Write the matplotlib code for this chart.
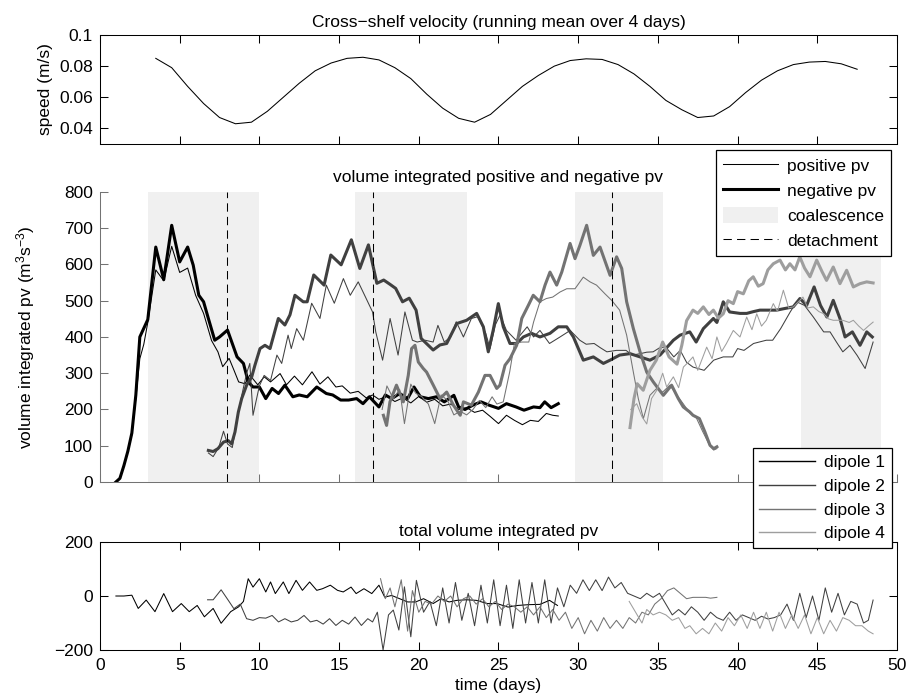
import numpy as np
import matplotlib
import matplotlib.pyplot as plt
from matplotlib.lines import Line2D
from matplotlib.patches import Patch

matplotlib.use("agg")

plt.rcParams["font.family"] = ["Liberation Sans", "DejaVu Sans"]
plt.rcParams["font.size"] = 12.5
plt.rcParams["mathtext.fontset"] = "custom"
plt.rcParams["mathtext.rm"] = "Liberation Sans"
plt.rcParams["mathtext.it"] = "Liberation Sans:italic"

# cross-shelf speed (running mean over 4 days)
speed_days = [3.5, 4.5, 5.5, 6.5, 7.5, 8.5, 9.5, 10.5, 11.5, 12.5, 13.5, 14.5,
              15.5, 16.5, 17.5, 18.5, 19.5, 20.5, 21.5, 22.5, 23.5, 24.5, 25.5,
              26.5, 27.5, 28.5, 29.5, 30.5, 31.5, 32.5, 33.5, 34.5, 35.5, 36.5,
              37.5, 38.5, 39.5, 40.5, 41.5, 42.5, 43.5, 44.5, 45.5, 46.5, 47.5]
speed_ms = [0.085, 0.079, 0.067, 0.056, 0.047, 0.043, 0.044, 0.051, 0.060, 0.069,
            0.077, 0.082, 0.085, 0.0857, 0.084, 0.079, 0.072, 0.062, 0.053, 0.0465,
            0.044, 0.049, 0.058, 0.067, 0.074, 0.080, 0.0836, 0.0847, 0.0843, 0.081,
            0.075, 0.067, 0.058, 0.052, 0.047, 0.048, 0.054, 0.063, 0.071, 0.077,
            0.081, 0.0826, 0.083, 0.0815, 0.078]

# coalescence periods and detachment times (days)
coal_start = [3.0, 16.0, 29.8, 44.0]
coal_end = [10.0, 23.0, 35.3, 49.0]
detach_day = [8.0, 17.15, 32.1]

# volume integrated positive / negative pv per dipole: (day, value)
pos1 = np.array([
    (1.0, 0), (1.25, 10), (1.5, 45), (1.75, 85), (2.0, 130), (2.25, 230), (2.5, 340),
    (2.75, 380), (3.0, 440), (3.5, 585), (4.0, 555), (4.5, 650), (5.0, 578), (5.5, 590),
    (6.0, 515), (6.5, 465), (7.0, 390), (7.4, 359), (7.7, 318), (8.1, 341), (8.4, 309),
    (8.7, 276), (9.1, 271), (9.4, 295), (9.9, 268), (10.3, 290), (10.7, 276), (11.3, 299),
    (11.7, 268), (12.2, 292), (12.7, 268), (13.3, 304), (13.8, 270), (14.3, 290),
    (14.8, 262), (15.2, 265), (15.7, 245), (16.2, 250), (16.7, 232), (17.1, 240),
    (17.5, 228), (18.0, 236), (18.5, 222), (19.0, 232), (19.5, 218), (20.0, 236),
    (20.5, 220), (21.0, 228), (21.5, 210), (22.0, 215), (22.5, 200), (23.0, 205),
    (23.5, 192), (24.0, 198), (24.5, 180), (25.0, 161), (25.5, 184), (26.0, 170),
    (26.5, 158), (27.0, 170), (27.5, 167), (28.0, 189), (28.4, 184), (28.75, 182)])
neg1 = np.array([
    (1.0, 0), (1.25, 10), (1.5, 45), (1.75, 85), (2.0, 135), (2.25, 240), (2.5, 400),
    (3.0, 448), (3.5, 648), (4.0, 558), (4.5, 708), (5.0, 607), (5.5, 648), (5.85, 598),
    (6.2, 515), (6.5, 497), (6.8, 451), (7.2, 391), (7.5, 400), (8.0, 419), (8.3, 382),
    (8.6, 345), (9.0, 327), (9.3, 276), (9.6, 262), (10.0, 262), (10.4, 230), (10.8, 258),
    (11.2, 244), (11.6, 267), (12.1, 235), (12.5, 240), (13.0, 235), (13.6, 262),
    (14.2, 244), (14.6, 240), (15.1, 226), (15.6, 226), (16.1, 230), (16.5, 216),
    (16.9, 235), (17.5, 207), (17.9, 240), (18.3, 230), (18.8, 244), (19.3, 230),
    (19.7, 262), (20.1, 235), (20.6, 230), (21.1, 235), (21.6, 221), (22.2, 239),
    (22.5, 207), (22.9, 200), (23.4, 212), (23.9, 221), (24.4, 212), (25.0, 203),
    (25.5, 216), (26.1, 207), (26.6, 198), (27.2, 207), (27.6, 205), (27.9, 221),
    (28.3, 205), (28.75, 216)])
pos2 = np.array([
    (6.8, 80), (7.1, 70), (7.45, 95), (7.75, 140), (8.0, 105), (8.3, 95), (8.6, 170),
    (8.9, 240), (9.2, 300), (9.4, 327), (9.6, 184), (10.0, 265), (10.3, 294), (10.7, 280),
    (11.1, 350), (11.4, 327), (11.8, 405), (12.0, 368), (12.34, 423), (12.76, 391),
    (13.28, 493), (13.8, 451), (14.2, 543), (14.7, 493), (15.27, 561), (15.7, 515),
    (16.2, 552), (16.7, 506), (17.1, 469), (17.3, 414), (17.73, 336), (18.2, 451),
    (18.7, 350), (19.13, 469), (19.6, 391), (19.9, 386), (20.4, 391), (20.9, 386),
    (21.2, 432), (21.6, 386), (22.0, 400), (22.35, 442), (22.8, 400), (23.3, 451),
    (23.7, 456), (24.2, 410), (24.47, 368), (24.8, 433), (25.1, 461), (25.5, 418),
    (26.1, 391), (26.8, 428), (27.2, 400), (27.6, 418), (28.2, 382), (28.86, 400),
    (29.5, 418), (30.1, 391), (30.5, 380), (31.0, 382), (31.4, 370), (31.8, 359),
    (32.4, 363), (33.0, 363), (33.4, 350), (33.9, 354), (34.3, 358), (34.7, 359),
    (35.1, 370), (35.5, 372), (36.0, 345), (36.4, 363), (36.8, 330), (37.2, 317),
    (37.9, 308), (38.5, 336), (39.1, 345), (39.7, 345), (40.0, 368), (40.4, 363),
    (41.0, 382), (41.8, 391), (42.2, 391), (42.7, 423), (43.3, 469), (43.7, 497),
    (44.2, 487), (44.75, 455), (45.4, 414), (45.8, 414), (46.2, 386), (46.6, 359),
    (47.05, 377), (47.5, 349), (48.0, 313), (48.5, 386)])
neg2 = np.array([
    (6.8, 87), (7.1, 84), (7.4, 92), (7.75, 110), (8.05, 114), (8.26, 105), (8.47, 138),
    (8.68, 193), (8.89, 230), (9.2, 267), (9.52, 290), (9.72, 322), (10.04, 368),
    (10.35, 377), (10.67, 368), (11.19, 451), (11.6, 433), (11.92, 461), (12.23, 515),
    (12.75, 497), (13.0, 497), (13.41, 571), (14.06, 543), (14.48, 626), (15.13, 599),
    (15.77, 668), (16.3, 589), (16.84, 654), (17.37, 548), (17.8, 557), (18.2, 545),
    (18.55, 534), (18.98, 497), (19.4, 507), (19.83, 474), (20.15, 396), (20.69, 373),
    (20.9, 364), (21.33, 378), (21.75, 382), (22.38, 437), (23.0, 446), (23.63, 465),
    (24.05, 428), (24.36, 359), (24.67, 419), (24.99, 492), (25.3, 428), (25.72, 382),
    (26.14, 382), (26.56, 400), (27.08, 410), (27.6, 400), (28.23, 410), (28.75, 428),
    (29.28, 428), (29.7, 400), (30.32, 336), (30.95, 345), (31.58, 327), (32.0, 336),
    (32.6, 350), (33.25, 354), (33.88, 345), (34.5, 336), (35.13, 350), (35.97, 391),
    (36.39, 405), (37.0, 414), (37.4, 386), (37.85, 423), (38.48, 451), (38.7, 440),
    (39.1, 497), (39.5, 469), (40.15, 465), (40.57, 465), (41.0, 470), (41.4, 474),
    (41.8, 474), (42.45, 474), (42.9, 478), (43.49, 483), (43.91, 506), (44.33, 487),
    (44.8, 538), (45.2, 487), (45.6, 455), (46.0, 501), (46.42, 451), (46.74, 400),
    (47.2, 414), (47.68, 377), (48.1, 414), (48.45, 400)])
pos3 = np.array([
    (17.7, 200), (18.0, 265), (18.4, 230), (18.8, 255), (19.1, 161), (19.5, 270),
    (19.8, 245), (20.2, 235), (20.6, 215), (21.0, 161), (21.4, 240), (21.8, 225),
    (22.2, 185), (22.6, 195), (23.0, 185), (23.4, 200), (23.8, 225), (24.2, 205),
    (24.6, 235), (24.9, 215), (25.3, 221), (25.7, 303), (26.0, 382), (26.45, 386),
    (26.9, 386), (27.2, 441), (27.6, 497), (28.0, 506), (28.4, 510), (28.86, 524),
    (29.28, 533), (29.8, 533), (30.32, 565), (30.74, 552), (31.15, 543), (31.68, 519),
    (32.1, 501), (32.6, 474), (33.04, 405), (33.46, 303), (33.77, 230), (34.09, 175),
    (34.5, 239), (34.9, 257), (35.3, 248), (35.75, 267), (36.2, 239), (36.6, 215),
    (37.0, 190), (37.4, 178), (37.8, 140), (38.2, 105), (38.5, 88), (38.7, 92)])
neg3 = np.array([
    (17.78, 184), (17.98, 156), (18.19, 221), (18.6, 267), (19.03, 221), (19.34, 294),
    (19.55, 368), (19.76, 377), (19.97, 331), (20.28, 313), (20.49, 303), (20.91, 267),
    (21.33, 230), (21.75, 248), (22.17, 212), (22.6, 184), (22.8, 221), (23.3, 212),
    (23.74, 248), (24.15, 294), (24.47, 294), (24.89, 258), (25.09, 267), (25.41, 322),
    (25.72, 340), (26.14, 377), (26.46, 451), (26.87, 487), (27.18, 515), (27.6, 497),
    (27.92, 543), (28.23, 579), (28.65, 543), (28.97, 579), (29.49, 658), (29.8, 616),
    (30.11, 653), (30.53, 708), (30.95, 625), (31.37, 648), (32.0, 570), (32.41, 621),
    (32.73, 589), (33.04, 497), (33.46, 423), (33.88, 359), (34.3, 303), (34.71, 276),
    (35.34, 239), (35.86, 267), (36.28, 230), (36.59, 207), (37.0, 193), (37.2, 184),
    (37.6, 175), (37.95, 138), (38.27, 101), (38.5, 92), (38.7, 97)])
pos4 = np.array([
    (33.3, 200), (33.67, 216), (34.0, 180), (34.3, 160), (34.6, 230), (34.93, 253),
    (35.3, 300), (35.55, 262), (35.97, 290), (36.3, 260), (36.6, 317), (36.9, 330),
    (37.2, 345), (37.5, 308), (38.06, 372), (38.4, 340), (38.7, 400), (39.0, 360),
    (39.3, 382), (39.73, 418), (40.15, 400), (40.57, 455), (40.9, 420), (41.2, 464),
    (41.5, 430), (41.8, 446), (42.24, 492), (42.5, 470), (42.87, 529), (43.2, 480),
    (43.5, 483), (44.1, 510), (44.4, 480), (44.75, 483), (45.1, 470), (45.4, 464),
    (45.7, 450), (46.0, 446), (46.3, 446), (46.6, 446), (47.0, 440), (47.26, 446),
    (47.6, 430), (47.9, 418), (48.2, 430), (48.5, 441)])
neg4 = np.array([
    (33.25, 150), (33.5, 230), (33.7, 271), (34.08, 253), (34.5, 308), (34.9, 336),
    (35.3, 386), (35.7, 345), (36.2, 325), (36.5, 377), (36.8, 445), (37.2, 474),
    (37.5, 465), (37.85, 483), (38.2, 462), (38.48, 474), (38.8, 452), (39.1, 464),
    (39.4, 500), (39.73, 492), (40.0, 525), (40.36, 519), (40.7, 555), (40.98, 566),
    (41.3, 540), (41.6, 547), (41.9, 585), (42.24, 602), (42.66, 612), (43.0, 585),
    (43.28, 602), (43.6, 585), (43.9, 621), (44.2, 590), (44.54, 566), (44.96, 612),
    (45.3, 580), (45.58, 556), (46.0, 593), (46.42, 547), (46.84, 584), (47.26, 538),
    (47.68, 547), (48.1, 552), (48.5, 549)])

# total volume integrated pv per dipole: (day, value)
tot1 = np.array([
    (1.0, 0), (1.5, 0), (2.0, 3), (2.4, -46), (2.9, -15), (3.45, -58), (4.0, 9),
    (4.55, -58), (5.1, -28), (5.6, -58), (6.1, -35), (6.55, -77), (7.1, -46),
    (7.6, -101), (8.2, -58), (8.7, -40), (9.0, -20), (9.3, 64), (9.6, 33), (10.0, 64),
    (10.4, 15), (10.7, 52), (11.0, 9), (11.5, 52), (11.85, 9), (12.3, 58), (12.7, 21),
    (13.15, 52), (13.6, 21), (13.96, 27), (14.45, 40), (14.9, 21), (15.26, 15),
    (15.75, 33), (16.07, 9), (16.56, 27), (17.05, 9), (17.5, 40), (17.86, -4),
    (18.3, 2), (18.8, -10), (19.3, -22), (19.8, -22), (20.3, -10), (20.9, -28),
    (21.4, -10), (21.9, -22), (22.4, -16), (23.0, -14), (23.6, -16), (24.3, -28),
    (24.9, -28), (25.6, -41), (26.2, -35), (26.9, -32), (27.6, -31), (28.2, -16),
    (28.7, -35)])
tot2 = np.array([
    (6.75, -14), (7.1, -14), (7.6, 23), (8.05, -16), (8.4, -47), (8.8, -30), (9.2, -84),
    (9.6, -90), (10.0, -80), (10.4, -82), (10.8, -72), (11.2, -96), (11.6, -84),
    (12.0, -96), (12.4, -90), (12.8, -72), (13.2, -96), (13.6, -90), (14.0, -104),
    (14.4, -84), (14.8, -109), (15.2, -90), (15.6, -104), (16.0, -78), (16.4, -109),
    (16.8, -84), (17.1, -96), (17.4, -60), (17.76, -200), (18.1, -70), (18.4, -52),
    (18.75, -126), (19.1, 34), (19.5, -151), (19.85, 58), (20.3, -60), (20.7, -20),
    (21.1, -110), (21.5, 30), (21.9, -100), (22.3, 50), (22.7, -90), (23.1, 10),
    (23.5, -110), (23.9, 40), (24.3, -100), (24.7, 60), (25.1, -110), (25.5, 40),
    (25.9, -120), (26.3, 60), (26.7, -100), (27.1, 50), (27.5, -100), (27.9, 60),
    (28.3, -100), (28.7, 30), (29.1, -40), (29.5, 40), (29.9, 10), (30.3, 60),
    (30.7, 20), (31.1, 60), (31.5, 20), (31.9, 70), (32.3, 30), (32.7, 50), (33.1, 10),
    (33.5, 0), (33.9, -10), (34.3, 10), (34.7, -5), (35.1, 10), (35.5, -30),
    (35.9, -70), (36.3, -50), (36.7, -70), (37.1, -40), (37.5, -60), (37.9, -90),
    (38.3, -60), (38.7, -80), (39.1, -90), (39.5, -60), (39.9, -90), (40.3, -70),
    (40.7, -80), (41.1, -90), (41.5, -75), (41.9, -85), (42.3, -80), (42.7, -70),
    (43.1, -30), (43.5, -90), (43.9, 10), (44.3, -80), (44.7, 0), (45.1, -90),
    (45.5, 30), (45.9, -60), (46.3, 10), (46.7, -70), (47.1, -20), (47.5, -30),
    (47.9, -100), (48.2, -90), (48.5, -15)])
tot3 = np.array([
    (17.6, 64), (17.9, -10), (18.2, 30), (18.5, -40), (18.9, 60), (19.3, -130),
    (19.6, 20), (20.0, -60), (20.4, -20), (20.8, -30), (21.2, 0), (21.6, -20),
    (22.0, 0), (22.4, -40), (22.8, -10), (23.2, 0), (23.6, -30), (24.0, -10),
    (24.4, -40), (24.8, -20), (25.2, -50), (25.6, -30), (26.0, -40), (26.4, -60),
    (26.8, -40), (27.2, -70), (27.6, -40), (28.0, -80), (28.4, -50), (28.8, -90),
    (29.2, -60), (29.6, -120), (30.0, -80), (30.4, -140), (30.8, -90), (31.2, -130),
    (31.6, -80), (32.0, -120), (32.4, -90), (32.8, -120), (33.2, -80), (33.6, -100),
    (34.0, -60), (34.4, -70), (34.8, -30), (35.2, -10), (35.6, 20), (36.0, 30),
    (36.4, 10), (36.8, -10), (37.2, -5), (37.6, -5), (38.0, -5), (38.3, -8), (38.7, -5)])
tot4 = np.array([
    (33.2, -20), (33.6, -60), (34.0, -100), (34.3, -50), (34.7, -70), (35.1, -60),
    (35.5, -70), (35.9, -90), (36.3, -80), (36.7, -120), (37.0, -110), (37.4, -140),
    (37.8, -120), (38.2, -140), (38.6, -100), (39.0, -130), (39.4, -80), (39.8, -110),
    (40.2, -70), (40.6, -120), (41.0, -60), (41.4, -120), (41.8, -60), (42.2, -130),
    (42.6, -60), (43.0, -120), (43.4, -70), (43.8, -120), (44.2, -70), (44.6, -140),
    (45.0, -80), (45.4, -140), (45.8, -90), (46.2, -130), (46.6, -80), (47.0, -90),
    (47.4, -110), (47.8, -110), (48.2, -130), (48.5, -140)])

dipole_colors = ["0.0", "0.25", "0.45", "0.62"]
thin = 0.75
thick = 2.2

fig = plt.figure(figsize=(9.08, 6.97), dpi=100)
ax_top = fig.add_axes([0.1101, 0.7934, 0.8778, 0.1564])
ax_mid = fig.add_axes([0.1101, 0.3085, 0.8778, 0.4161])
ax_bot = fig.add_axes([0.1101, 0.0674, 0.8778, 0.1550])

tick_kw = dict(direction="in", length=5.8, width=0.75)

# --- speed
ax_top.plot(speed_days, speed_ms, color="k", lw=thin)
ax_top.set_xlim(0, 50)
ax_top.set_ylim(0.03, 0.1)
ax_top.set_xticks(range(0, 51, 5))
ax_top.set_xticklabels([])
ax_top.set_yticks([0.04, 0.06, 0.08, 0.1])
ax_top.set_yticklabels(["0.04", "0.06", "0.08", "0.1"])
ax_top.tick_params(top=True, right=True, pad=5, **tick_kw)
ax_top.set_title("Cross\u2212shelf velocity (running mean over 4 days)", pad=6,
                 fontsize=12.5)
ax_top.set_ylabel("speed (m/s)")
ax_top.yaxis.set_label_coords(-0.059, 0.5)

# --- positive / negative pv
for s, e in zip(coal_start, coal_end):
    ax_mid.axvspan(s, e, color="#f0f0f0", lw=0, zorder=1.6)
for pos, neg, c in zip([pos1, pos2, pos3, pos4], [neg1, neg2, neg3, neg4],
                       dipole_colors):
    ax_mid.plot(pos[:, 0], pos[:, 1], color=c, lw=thin, zorder=2)
    ax_mid.plot(neg[:, 0], neg[:, 1], color=c, lw=thick, zorder=2)
for d in detach_day:
    ax_mid.axvline(d, color="k", lw=0.75, ls=(0, (8, 5)), zorder=3)
ax_mid.set_xlim(0, 50)
ax_mid.set_ylim(0, 800)
ax_mid.set_xticks(range(0, 51, 5))
ax_mid.set_xticklabels([])
ax_mid.set_yticks(range(0, 801, 100))
ax_mid.spines["top"].set_visible(False)
ax_mid.spines["right"].set_visible(False)
for side in ["left", "bottom"]:
    ax_mid.spines[side].set_color("0.45")
    ax_mid.spines[side].set_linewidth(0.75)
ax_mid.spines["bottom"].set_zorder(1.4)
ax_mid.xaxis.set_zorder(1.4)
ax_mid.tick_params(colors="0.45", labelcolor="k", pad=5, **tick_kw)
ax_mid.set_title("volume integrated positive and negative pv", pad=7,
                 fontsize=12.5)
ax_mid.set_ylabel("volume integrated pv (m$^3$s$^{-3}$)")
ax_mid.yaxis.set_label_coords(-0.079, 0.5)

# --- total pv
for tot, c in zip([tot1, tot2, tot3, tot4], dipole_colors):
    ax_bot.plot(tot[:, 0], tot[:, 1], color=c, lw=thin)
ax_bot.set_xlim(0, 50)
ax_bot.set_ylim(-200, 200)
ax_bot.set_xticks(range(0, 51, 5))
ax_bot.set_yticks([-200, 0, 200])
ax_bot.tick_params(top=True, right=True, pad=5, **tick_kw)
ax_bot.tick_params(axis="x", pad=6)
ax_bot.set_title("total volume integrated pv", pad=4, fontsize=12.5)
ax_bot.set_xlabel("time (days)", labelpad=3)

for ax in [ax_top, ax_bot]:
    for sp in ax.spines.values():
        sp.set_linewidth(0.75)

legend_kw = dict(frameon=True, fancybox=False, edgecolor="k", framealpha=1,
                 borderpad=0.4, handlelength=3.2, handletextpad=0.5,
                 labelspacing=0.49, borderaxespad=0, fontsize=12.5)

pv_handles = [Line2D([], [], color="k", lw=thin),
              Line2D([], [], color="k", lw=thick),
              Patch(facecolor="#f0f0f0", edgecolor="none"),
              Line2D([], [], color="k", lw=0.75, ls=(0, (8, 5)))]
leg1 = fig.legend(pv_handles, ["positive pv", "negative pv", "coalescence",
                               "detachment"],
                  loc="upper right", bbox_to_anchor=(0.981, 0.785),
                  handleheight=1.0, **legend_kw)
leg1.get_frame().set_linewidth(0.9)

dip_handles = [Line2D([], [], color=c, lw=1.0) for c in dipole_colors]
leg2 = fig.legend(dip_handles, ["dipole 1", "dipole 2", "dipole 3", "dipole 4"],
                  loc="upper right", bbox_to_anchor=(0.982, 0.357), **legend_kw)
leg2.get_frame().set_linewidth(0.9)

fig.savefig("out.png", dpi=100)
